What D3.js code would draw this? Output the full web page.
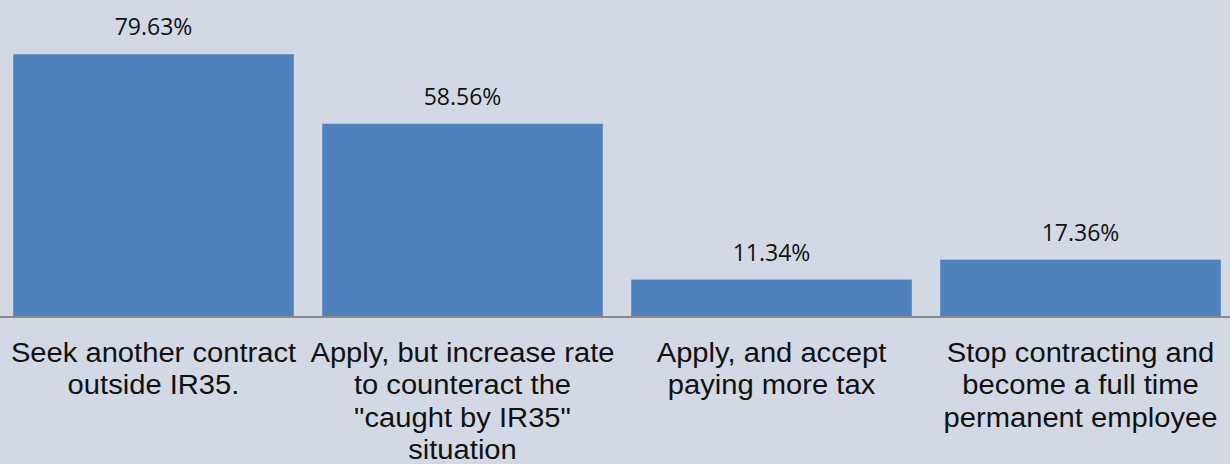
<!DOCTYPE html>
<html>
<head>
<meta charset="utf-8">
<script src="https://cdn.jsdelivr.net/npm/d3@7"></script>
<style>
html,body{margin:0;padding:0;background:#d2d9e4;}
svg{display:block;}
</style>
</head>
<body>
<svg id="chart" width="1230" height="464"></svg>
<script>
const categories = [
  "Seek another contract outside IR35.",
  "Apply, but increase rate to counteract the \"caught by IR35\" situation",
  "Apply, and accept paying more tax",
  "Stop contracting and become a full time permanent employee"
];
const tickLabels = [
  ["Seek another contract", "outside IR35."],
  ["Apply, but increase rate", "to counteract the", "\"caught by IR35\"", "situation"],
  ["Apply, and accept", "paying more tax"],
  ["Stop contracting and", "become a full time", "permanent employee"]
];
const values = [79.63, 58.56, 11.34, 17.36];
const valueLabels = ["79.63%", "58.56%", "11.34%", "17.36%"];

const W = 1230, H = 464;
const svg = d3.select("#chart");
svg.append("rect").attr("width", W).attr("height", H).attr("fill", "#d2d9e4");

const x = d3.scaleBand()
  .domain(categories)
  .range([-1, 1235])
  .paddingInner(0.092)
  .paddingOuter(0.046);

const y = d3.scaleLinear().domain([0, 90]).range([317, 20]);

svg.append("g").selectAll("rect")
  .data(categories)
  .join("rect")
  .attr("x", d => x(d))
  .attr("width", x.bandwidth())
  .attr("y", (d, i) => y(values[i]))
  .attr("height", (d, i) => y(0) - y(values[i]))
  .attr("fill", "#4f81bd");

svg.append("g").selectAll("text")
  .data(categories)
  .join("text")
  .attr("x", d => x(d) + x.bandwidth() / 2)
  .attr("y", (d, i) => y(values[i]) - 19)
  .attr("text-anchor", "middle")
  .attr("font-family", "'Open Sans', sans-serif")
  .attr("font-size", 23)
  .attr("fill", "#111")
  .text((d, i) => valueLabels[i]);

// x axis
const axis = d3.axisBottom(x).tickSize(0).tickFormat("");
const gAxis = svg.append("g").attr("transform", `translate(0,${y(0)})`).call(axis);
gAxis.select(".domain").attr("stroke", "#8a8a8a").attr("stroke-width", 2)
  .attr("d", `M0,0H${W}`);

const lineH = 32.5;
const gLabels = svg.append("g");
categories.forEach((c, i) => {
  const cx = x(c) + x.bandwidth() / 2;
  const t = gLabels.append("text")
    .attr("transform", `translate(${cx},362) scale(1.08,1)`)
    .attr("text-anchor", "middle")
    .attr("font-family", "'Liberation Sans', Arial, sans-serif")
    .attr("font-size", 27)
    .attr("fill", "#111");
  tickLabels[i].forEach((line, j) => {
    t.append("tspan").attr("x", 0).attr("y", j * lineH).text(line);
  });
});
</script>
</body>
</html>
